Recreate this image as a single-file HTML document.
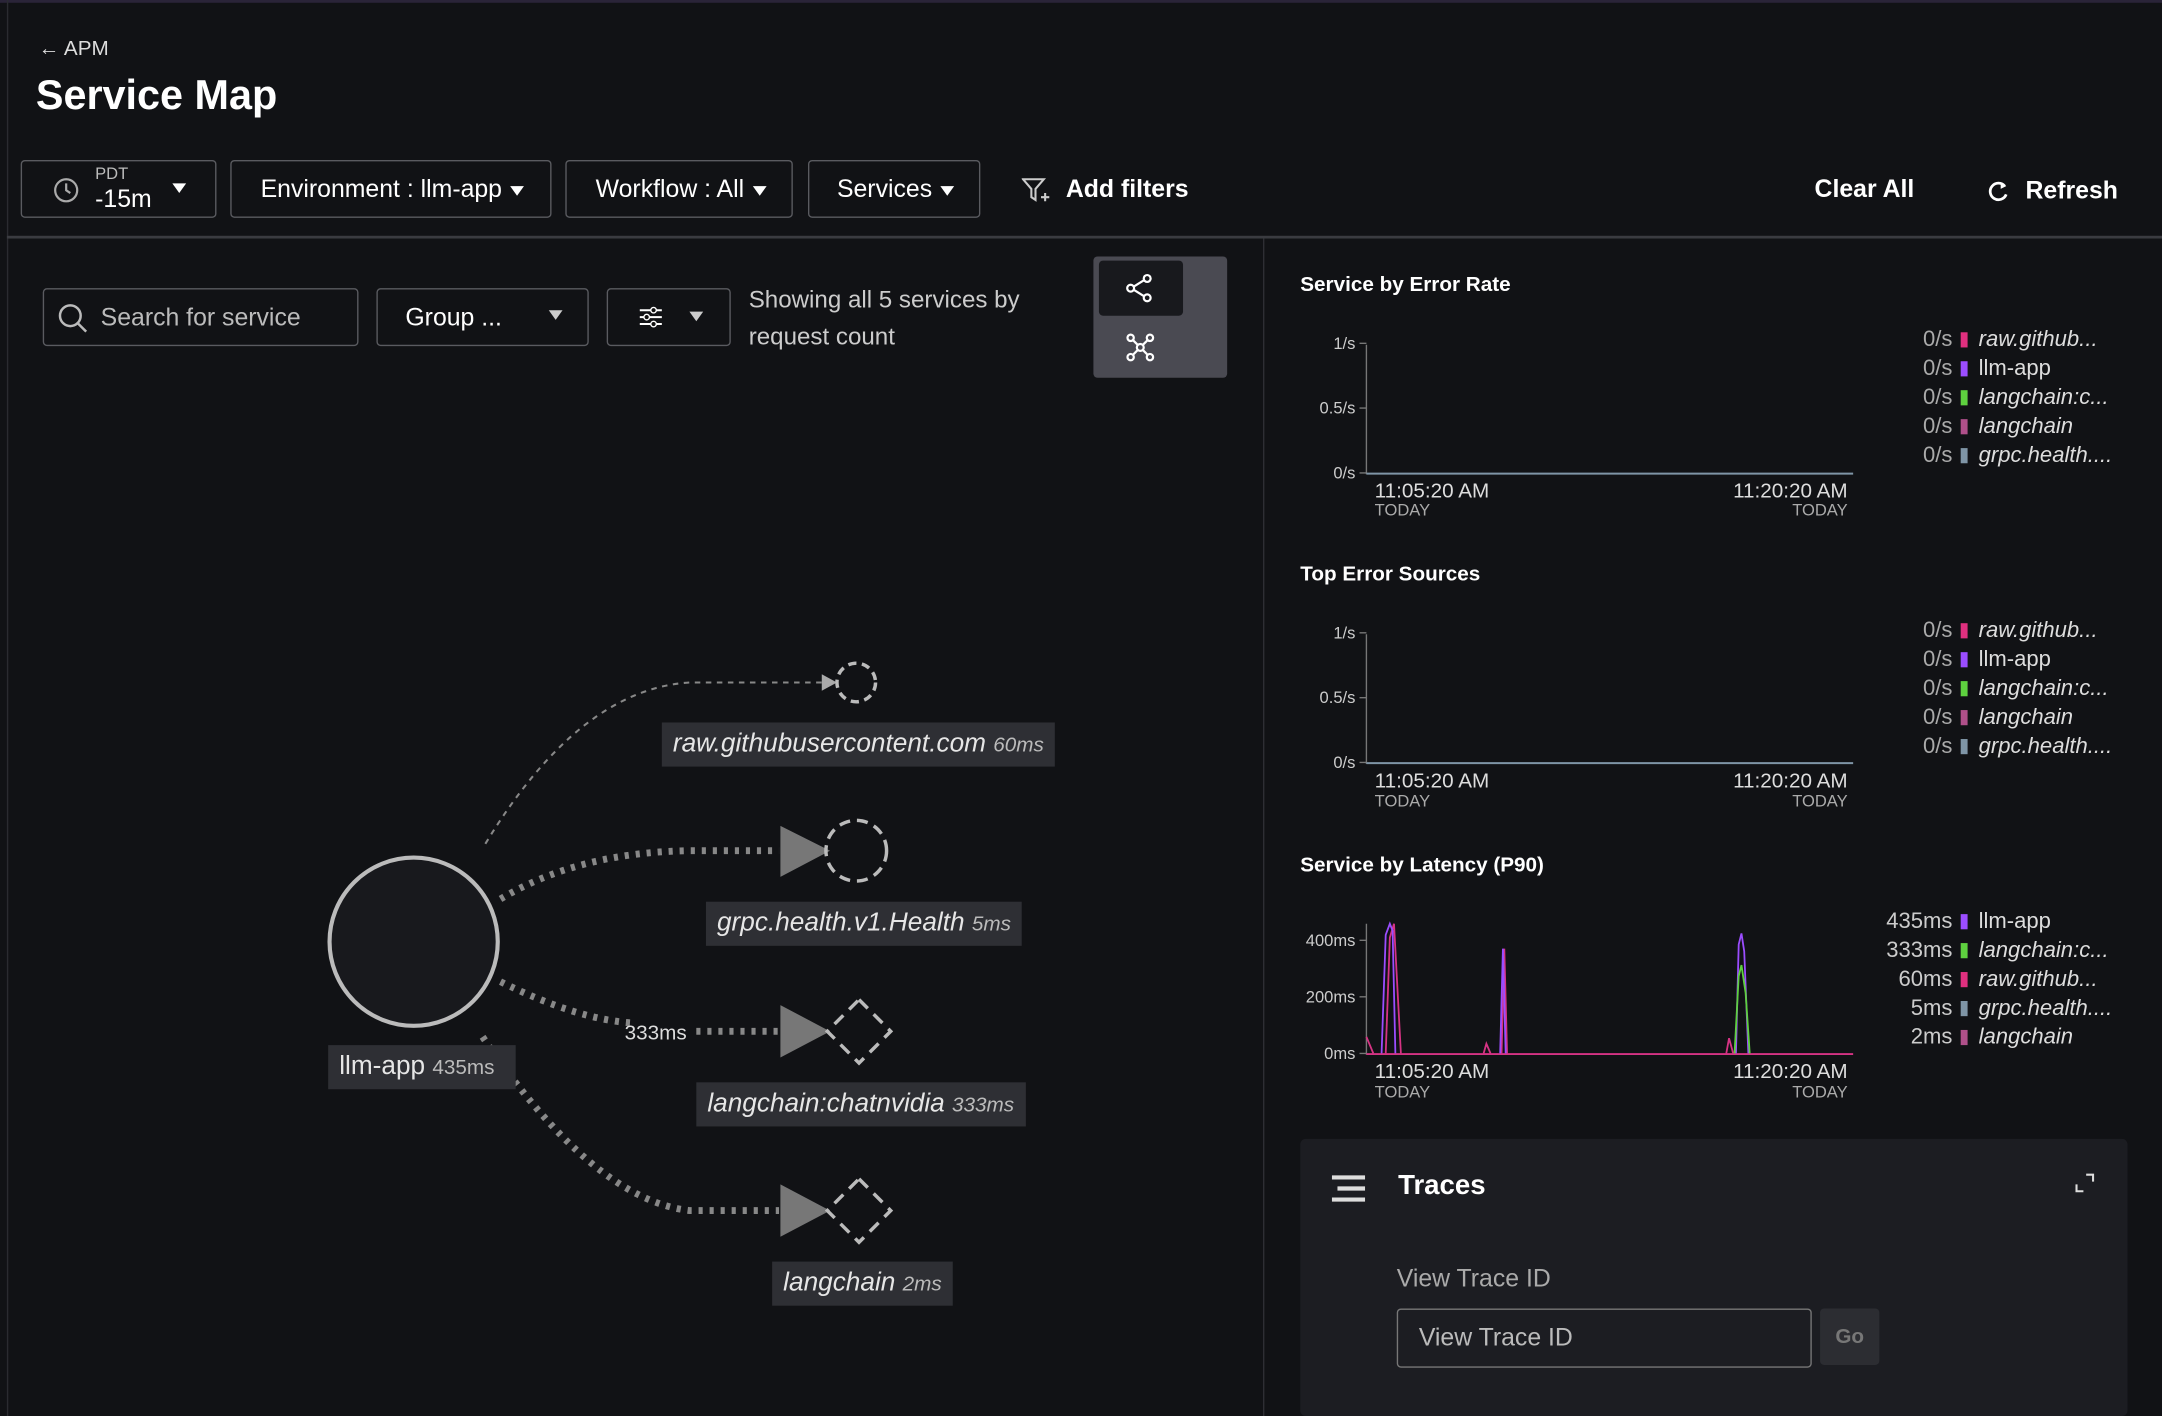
<!DOCTYPE html>
<html><head><meta charset="utf-8"><style>
html,body{margin:0;padding:0;background:#111215;overflow:hidden}
#root{position:absolute;left:0;top:0;width:1568px;height:1027px;transform:scale(1.378827,1.378773);transform-origin:0 0;background:#111215;font-family:"Liberation Sans",sans-serif;color:#fff}
.a{position:absolute;white-space:nowrap}
.btn{position:absolute;border:1px solid #5a5b60;border-radius:3px;box-sizing:border-box}
.tri{display:inline-block;width:0;height:0;border-left:5px solid transparent;border-right:5px solid transparent;border-top:7px solid #fff;vertical-align:middle;margin-left:6px}
.lbl{position:absolute;background:#2e2f34;color:#e6e6e6;font-style:italic;font-size:19px;height:32px;line-height:32px;padding:0 8px;box-sizing:border-box;white-space:nowrap}
.lbl small{font-size:15px;color:#bbb}
.leg{position:absolute;font-size:16px;line-height:21px;color:#ddd}
.leg div{white-space:nowrap}
.leg b{display:inline-block;width:5px;height:11px;margin:0 8px 0 6px;vertical-align:-1px}
.leg span.v{display:inline-block;text-align:right;color:#aaa;width:26px}
</style></head><body><div id="root">
<div class="a" style="left:0;top:0;width:1568px;height:2px;background:#2a2438"></div>
<div class="a" style="left:5px;top:0;width:1px;height:1027px;background:#2a2b30"></div>
<div class="a" style="left:28px;top:27px;font-size:15px;color:#ddd">← APM</div>
<div class="a" style="left:26px;top:53px;font-size:30px;font-weight:bold">Service Map</div>

<div class="btn" style="left:15px;top:116px;width:142px;height:42px"></div>
<svg class="a" style="left:38px;top:128px" width="20" height="20"><circle cx="10" cy="10" r="8" fill="none" stroke="#aaa" stroke-width="1.6"/><path d="M10 5v5l3 2" stroke="#aaa" stroke-width="1.6" fill="none"/></svg>
<div class="a" style="left:69px;top:119px;font-size:12px;color:#bbb">PDT</div>
<div class="a" style="left:69px;top:134px;font-size:18px">-15m</div>
<div class="a" style="left:119px;top:128px"><span class="tri"></span></div>
<div class="btn" style="left:167px;top:116px;width:233px;height:42px"></div>
<div class="a" style="left:189px;top:127px;font-size:18px">Environment : llm-app<span class="tri"></span></div>
<div class="btn" style="left:410px;top:116px;width:165px;height:42px"></div>
<div class="a" style="left:432px;top:127px;font-size:18px">Workflow : All<span class="tri"></span></div>
<div class="btn" style="left:586px;top:116px;width:125px;height:42px"></div>
<div class="a" style="left:607px;top:127px;font-size:18px">Services<span class="tri"></span></div>
<svg class="a" style="left:741px;top:128px" width="24" height="20"><path d="M1 2h15l-6 7v8l-3-2V9z" fill="none" stroke="#ccc" stroke-width="1.5"/><path d="M17 12v6M14 15h6" stroke="#ccc" stroke-width="1.5"/></svg>
<div class="a" style="left:773px;top:127px;font-size:18px;font-weight:bold">Add filters</div>
<div class="a" style="left:1316px;top:127px;font-size:18px;font-weight:bold">Clear All</div>
<svg class="a" style="left:1440px;top:130px" width="18" height="18"><path d="M14 5A6 6 0 1 0 15 11" fill="none" stroke="#fff" stroke-width="2"/><path d="M11 2l4 3-4 2z" fill="#fff"/></svg>
<div class="a" style="left:1469px;top:128px;font-size:18px;font-weight:bold">Refresh</div>

<div class="a" style="left:5px;top:171px;width:1563px;height:2px;background:#3a3b40"></div>
<div class="a" style="left:916px;top:173px;width:1px;height:854px;background:#2e2f34"></div>

<div class="btn" style="left:31px;top:209px;width:229px;height:42px"></div>
<svg class="a" style="left:41px;top:219px" width="24" height="24"><circle cx="10" cy="10" r="7.5" fill="none" stroke="#bbb" stroke-width="1.8"/><path d="M15.5 15.5l6 6" stroke="#bbb" stroke-width="1.8"/></svg>
<div class="a" style="left:73px;top:220px;font-size:18px;color:#bbb">Search for service</div>
<div class="btn" style="left:273px;top:209px;width:154px;height:42px"></div>
<div class="a" style="left:294px;top:220px;font-size:18px">Group ...</div>
<div class="a" style="left:392px;top:220px"><span class="tri" style="border-top-color:#ccc"></span></div>
<div class="btn" style="left:440px;top:209px;width:90px;height:42px"></div>
<svg class="a" style="left:463px;top:221px" width="18" height="18"><path d="M1 4h16M1 9h16M1 14h16" stroke="#fff" stroke-width="1.5"/><circle cx="11" cy="4" r="2" fill="#111" stroke="#fff"/><circle cx="6" cy="9" r="2" fill="#111" stroke="#fff"/><circle cx="11" cy="14" r="2" fill="#111" stroke="#fff"/></svg>
<div class="a" style="left:494px;top:221px"><span class="tri" style="border-top-color:#ccc"></span></div>
<div class="a" style="left:543px;top:204px;font-size:17.5px;color:#ccc;line-height:27px">Showing all 5 services by<br>request count</div>
<div class="a" style="left:793px;top:186px;width:97px;height:88px;background:#4a4a52;border-radius:3px"></div>
<div class="a" style="left:797px;top:189px;width:61px;height:40px;background:#18191d;border-radius:3px"></div>
<svg class="a" style="left:815px;top:197px" width="24" height="24"><circle cx="17" cy="5" r="2.5" fill="none" stroke="#fff" stroke-width="1.6"/><circle cx="5" cy="12" r="2.5" fill="none" stroke="#fff" stroke-width="1.6"/><circle cx="17" cy="19" r="2.5" fill="none" stroke="#fff" stroke-width="1.6"/><path d="M7 11l8-5M7 13l8 5" stroke="#fff" stroke-width="1.6"/></svg>
<svg class="a" style="left:815px;top:240px" width="24" height="24"><circle cx="12" cy="12" r="2.5" fill="none" stroke="#fff" stroke-width="1.6"/><circle cx="5" cy="5" r="2.3" fill="none" stroke="#fff" stroke-width="1.6"/><circle cx="19" cy="5" r="2.3" fill="none" stroke="#fff" stroke-width="1.6"/><circle cx="5" cy="19" r="2.3" fill="none" stroke="#fff" stroke-width="1.6"/><circle cx="19" cy="19" r="2.3" fill="none" stroke="#fff" stroke-width="1.6"/><path d="M7 7l3 3M17 7l-3 3M7 17l3-3M17 17l-3-3" stroke="#fff" stroke-width="1.6"/></svg>

<svg class="a" style="left:0;top:0" width="916" height="1027">
<g fill="none" stroke="#888">
<path d="M352 612 Q 420 500 500 495 L 598 495" stroke-width="1.5" stroke-dasharray="4 4"/>
<path d="M363 652 Q 420 618 500 617 L 565 617" stroke-width="5" stroke-dasharray="3 5"/>
<path d="M363 712 Q 420 740 460 742" stroke-width="5" stroke-dasharray="3 5"/>
<path d="M505 748 L 565 748" stroke-width="5" stroke-dasharray="3 5"/>
<path d="M350 752 Q 430 870 500 878 L 565 878" stroke-width="5" stroke-dasharray="3 5"/>
</g>
<path d="M596 489 L607 495 L596 501z" fill="#aaa"/>
<path d="M566 599 L602 617 L566 636z" fill="#777"/>
<path d="M566 729 L602 748 L566 767z" fill="#777"/>
<path d="M566 859 L602 878 L566 897z" fill="#777"/>
<circle cx="300" cy="683" r="61" fill="#18191d" stroke="#bbb" stroke-width="3"/>
<circle cx="621" cy="495" r="14" fill="none" stroke="#bbb" stroke-width="2.5" stroke-dasharray="6 4"/>
<circle cx="621" cy="617" r="22" fill="none" stroke="#bbb" stroke-width="2.5" stroke-dasharray="8 5"/>
<path d="M623 725 L646 748 L623 771 L600 748z" fill="none" stroke="#bbb" stroke-width="2.5" stroke-dasharray="9 6"/>
<path d="M623 855 L646 878 L623 901 L600 878z" fill="none" stroke="#bbb" stroke-width="2.5" stroke-dasharray="9 6"/>
<text x="453" y="754" font-family="Liberation Sans" font-size="15" fill="#ddd">333ms</text>
</svg>
<div class="lbl" style="left:238px;top:758px;width:136px;font-style:normal">llm-app <small style="font-style:normal">435ms</small></div>
<div class="lbl" style="left:480px;top:524px">raw.githubusercontent.com <small>60ms</small></div>
<div class="lbl" style="left:512px;top:654px">grpc.health.v1.Health <small>5ms</small></div>
<div class="lbl" style="left:505px;top:785px">langchain:chatnvidia <small>333ms</small></div>
<div class="lbl" style="left:560px;top:915px">langchain <small>2ms</small></div>

<div class="a" style="left:943px;top:198px;font-size:15px;font-weight:bold">Service by Error Rate</div>
<div class="a" style="left:943px;top:408px;font-size:15px;font-weight:bold">Top Error Sources</div>
<div class="a" style="left:943px;top:619px;font-size:15px;font-weight:bold">Service by Latency (P90)</div>

<svg class="a" style="left:920px;top:230px" width="440" height="580" font-family="Liberation Sans">
<g font-size="12" fill="#ccc" text-anchor="end">
<text x="63" y="23">1/s</text><text x="63" y="70">0.5/s</text><text x="63" y="117">0/s</text>
<text x="63" y="233">1/s</text><text x="63" y="280">0.5/s</text><text x="63" y="327">0/s</text>
<text x="63" y="456">400ms</text><text x="63" y="497">200ms</text><text x="63" y="538">0ms</text>
</g>
<g stroke="#777" stroke-width="1">
<path d="M71 20v94M66 19h5M66 66h5M66 113h5"/>
<path d="M71 230v94M66 229h5M66 276h5M66 323h5"/>
<path d="M71 440v95M66 452h5M66 493h5M66 534h5"/>
</g>
<path d="M71 113.5H424M71 323.5H424" stroke="#7f95a6" stroke-width="1.5"/>
<path d="M71 534.5H424" stroke="#d63384" stroke-width="1.3"/>
<g fill="none" stroke-width="1.3">
<path d="M71 522 L76 534 M85 534 L88 450 L91 440 L96 534 M156 534 L158 527 L161 534 M169 534 L171 458 L173 534 M332 534 L334 523 L337 534" stroke="#d63384"/>
<path d="M82 534 L85 448 L88 440 L90 445 L92 534 M168 534 L170 458 L172 534 M339 534 L341 455 L343 447 L345 460 L348 534" stroke="#9b4dff"/>
<path d="M338 534 L341 478 L343 470 L346 490 L349 534" stroke="#5ed13f"/>
</g>
<g font-size="15" fill="#ddd">
<text x="77" y="131">11:05:20 AM</text><text x="420" y="131" text-anchor="end">11:20:20 AM</text>
<text x="77" y="341">11:05:20 AM</text><text x="420" y="341" text-anchor="end">11:20:20 AM</text>
<text x="77" y="552">11:05:20 AM</text><text x="420" y="552" text-anchor="end">11:20:20 AM</text>
</g>
<g font-size="12" fill="#aaa">
<text x="77" y="144">TODAY</text><text x="420" y="144" text-anchor="end">TODAY</text>
<text x="77" y="355">TODAY</text><text x="420" y="355" text-anchor="end">TODAY</text>
<text x="77" y="566">TODAY</text><text x="420" y="566" text-anchor="end">TODAY</text>
</g>
</svg>

<div class="leg" style="left:1390px;top:236px">
<div><span class="v">0/s</span><b style="background:#e0307f"></b><i>raw.github...</i></div>
<div><span class="v">0/s</span><b style="background:#9b4dff"></b>llm-app</div>
<div><span class="v">0/s</span><b style="background:#5ed13f"></b><i>langchain:c...</i></div>
<div><span class="v">0/s</span><b style="background:#b0508a"></b><i>langchain</i></div>
<div><span class="v">0/s</span><b style="background:#7f95a6"></b><i>grpc.health....</i></div>
</div>
<div class="leg" style="left:1390px;top:447px">
<div><span class="v">0/s</span><b style="background:#e0307f"></b><i>raw.github...</i></div>
<div><span class="v">0/s</span><b style="background:#9b4dff"></b>llm-app</div>
<div><span class="v">0/s</span><b style="background:#5ed13f"></b><i>langchain:c...</i></div>
<div><span class="v">0/s</span><b style="background:#b0508a"></b><i>langchain</i></div>
<div><span class="v">0/s</span><b style="background:#7f95a6"></b><i>grpc.health....</i></div>
</div>
<div class="leg" style="left:1360px;top:658px">
<div><span class="v" style="width:56px;color:#ccc">435ms</span><b style="background:#9b4dff"></b>llm-app</div>
<div><span class="v" style="width:56px;color:#ccc">333ms</span><b style="background:#5ed13f"></b><i>langchain:c...</i></div>
<div><span class="v" style="width:56px;color:#ccc">60ms</span><b style="background:#e0307f"></b><i>raw.github...</i></div>
<div><span class="v" style="width:56px;color:#ccc">5ms</span><b style="background:#7f95a6"></b><i>grpc.health....</i></div>
<div><span class="v" style="width:56px;color:#ccc">2ms</span><b style="background:#b0508a"></b><i>langchain</i></div>
</div>

<div class="a" style="left:943px;top:826px;width:600px;height:201px;background:#1c1d22;border-radius:4px"></div>
<svg class="a" style="left:965px;top:852px" width="28" height="22"><path d="M1 2h24M5 10h20M1 18h24" stroke="#ddd" stroke-width="3"/></svg>
<div class="a" style="left:1014px;top:849px;font-size:20px;font-weight:bold">Traces</div>
<svg class="a" style="left:1504px;top:850px" width="16" height="16"><path d="M9 2h5v5M2 9v5h5" fill="none" stroke="#ddd" stroke-width="1.5"/></svg>
<div class="a" style="left:1013px;top:917px;font-size:18px;color:#aaa">View Trace ID</div>
<div class="btn" style="left:1013px;top:949px;width:301px;height:43px;border-color:#777"></div>
<div class="a" style="left:1029px;top:960px;font-size:18px;color:#bbb">View Trace ID</div>
<div class="a" style="left:1320px;top:949px;width:43px;height:41px;background:#2c2d32;border-radius:3px;color:#777;font-size:15px;text-align:center;line-height:41px;font-weight:bold">Go</div>
</div></body></html>
